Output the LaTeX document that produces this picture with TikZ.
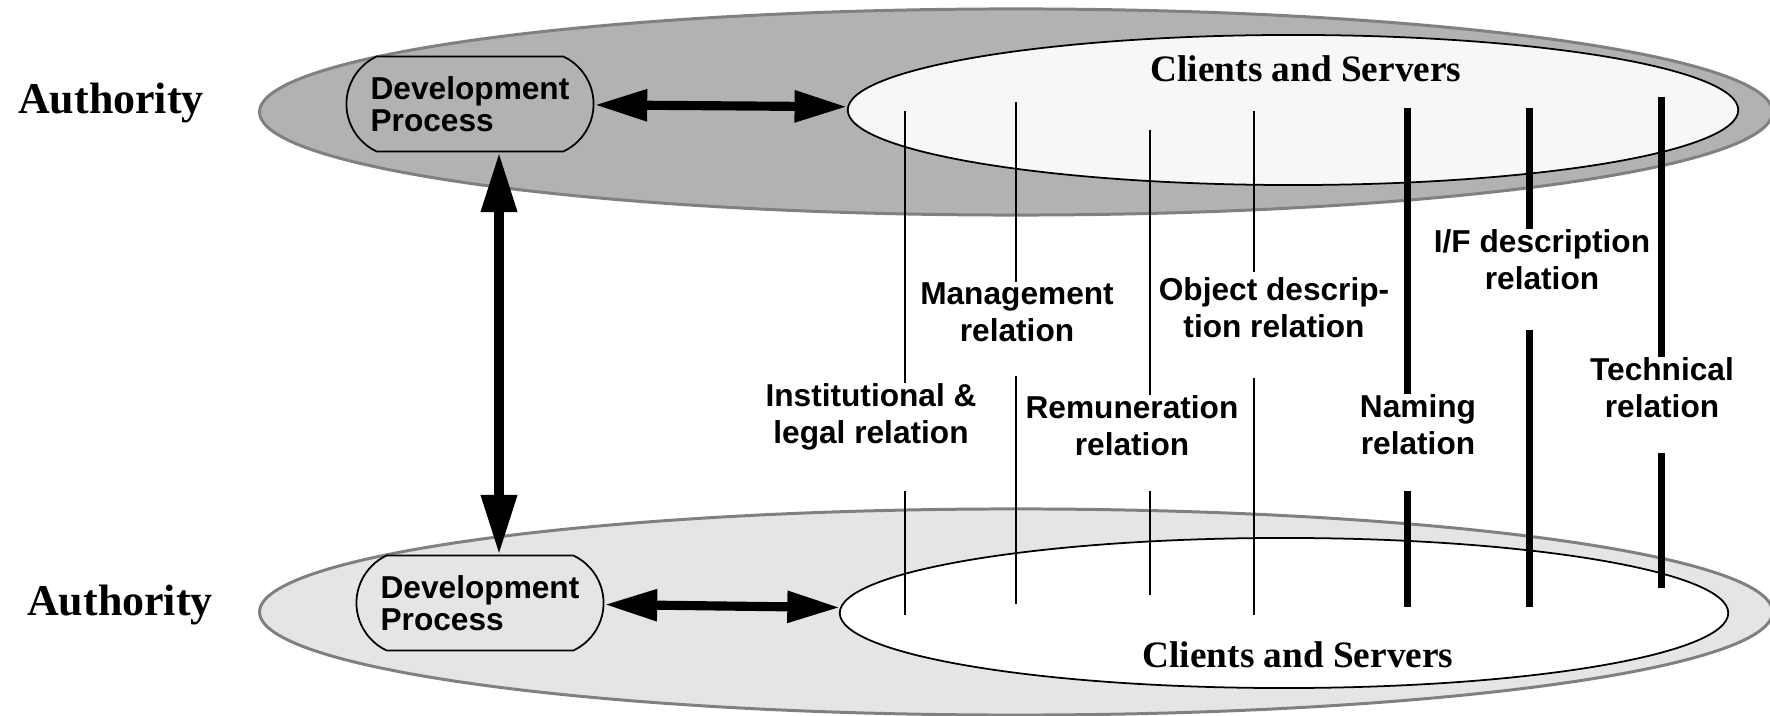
\documentclass[tikz,border=0pt]{standalone}
\usepackage{fontspec}
\setmainfont{Liberation Serif}
\setsansfont{Liberation Sans}
\usetikzlibrary{shapes.geometric,shapes.misc,arrows.meta}

\tikzset{
  authzone/.style={ellipse,draw=black!50,line width=0.85pt,inner sep=0pt,
    minimum width=15.12cm,minimum height=2.06cm},
  csarea/.style={ellipse,draw=black,line width=0.5pt,inner sep=0pt,
    minimum width=8.9cm,minimum height=1.5cm},
  devproc/.style={rounded rectangle,rounded rectangle arc length=130,draw=black,
    line width=0.5pt,minimum width=2.47cm,minimum height=0.95cm,inner sep=0pt,
    align=left,font=\sffamily\bfseries\fontsize{9}{9}\selectfont},
  authlabel/.style={anchor=base,inner sep=0pt,font=\bfseries\fontsize{12.5}{14}\selectfont},
  cslabel/.style={anchor=base,inner sep=0pt,font=\bfseries\fontsize{10.6}{12}\selectfont},
  rellabel/.style={align=center,inner sep=0pt,font=\sffamily\bfseries\fontsize{9}{10.6}\selectfont},
  thinrel/.style={line width=0.5pt},
  thickrel/.style={line width=2pt},
  biarrow/.style={{Triangle[length=15pt,width=8.5pt]}-{Triangle[length=15pt,width=8.5pt]},line width=2.6pt},
  vbiarrow/.style={{Triangle[length=17pt,width=9.7pt]}-{Triangle[length=17pt,width=9.7pt]},line width=2.8pt}
}

\begin{document}
\begin{tikzpicture}[x=0.01cm,y=-0.01cm]
   \useasboundingbox (0,0) rectangle (1770,716);

   % upper authority
   \node[authzone] (auth1) [fill=black!30] at (1016,112) {};
   \node[csarea] (cs1) [fill=black!3] at (1293,110) {};
   \node[authlabel] (auth1t) at (111,114) {Authority};
   \node[cslabel] (cs1t) at (1306,82) {Clients and Servers};
   \node[devproc] (dev1) [fill=black!30] at (470,104) {Development\\Process};

   % lower authority
   \node[authzone] (auth2) [fill=black!10] at (1016,612) {};
   \node[csarea] (cs2) [fill=white,minimum width=8.88cm] at (1284,613) {};
   \node[authlabel] (auth2t) at (120,616) {Authority};
   \node[cslabel] (cs2t) at (1298,668) {Clients and Servers};
   \node[devproc] (dev2) [fill=black!10] at (480,603) {Development\\Process};

   \path[biarrow]
        (dev1) edge node {} (cs1)
        (dev2) edge node {} (cs2);
   \path[vbiarrow]
        ([xshift=0.29cm]dev1.south) edge node {} ([xshift=0.19cm]dev2.north);

   % relations
   \node[rellabel] (inst) at (871,417) {Institutional \&\\legal relation};
   \node[rellabel] (mgmt) at (1017,312) {Management\\relation};
   \node[rellabel] (remu) at (1132,426) {Remuneration\\relation};
   \node[rellabel] (objd) at (1274,308) {Object descrip-\\tion relation};
   \node[rellabel] (nami) at (1418,425) {Naming\\relation};
   \node[rellabel] (ifd)  at (1542,260) {I/F description\\relation};
   \node[rellabel] (tech) at (1662,388) {Technical\\relation};

   \coordinate (inst-t) at (905,111);
   \coordinate (inst-b) at (905,491);
   \coordinate (inst-e) at (905,615);
   \coordinate (mgmt-t) at (1016,102);
   \coordinate (mgmt-b) at (1016,376);
   \coordinate (mgmt-e) at (1016,604);
   \coordinate (remu-t) at (1150,130);
   \coordinate (remu-b) at (1150,491);
   \coordinate (remu-e) at (1150,595);
   \coordinate (objd-t) at (1254,111);
   \coordinate (objd-m) at (1254,272);
   \coordinate (objd-b) at (1254,378);
   \coordinate (objd-e) at (1254,615);
   \coordinate (nami-t) at (1407,108);
   \coordinate (nami-b) at (1407,491);
   \coordinate (nami-e) at (1407,607);
   \coordinate (ifd-t)  at (1529,108);
   \coordinate (ifd-b)  at (1529,330);
   \coordinate (ifd-e)  at (1529,607);
   \coordinate (tech-t) at (1661,97);
   \coordinate (tech-b) at (1661,453);
   \coordinate (tech-e) at (1661,588);

   \draw[thinrel]
        (inst-t) -- (inst-t |- inst.north)
        (inst-b) -- (inst-e)
        (mgmt-t) -- (mgmt-t |- mgmt.north)
        (mgmt-b) -- (mgmt-e)
        (remu-t) -- (remu-t |- remu.north)
        (remu-b) -- (remu-e)
        (objd-t) -- (objd-m)
        (objd-b) -- (objd-e);
   \draw[thickrel]
        (nami-t) -- (nami-t |- nami.north)
        (nami-b) -- (nami-e)
        (ifd-t) -- (ifd-t |- ifd.north)
        (ifd-b) -- (ifd-e)
        (tech-t) -- (tech-t |- tech.north)
        (tech-b) -- (tech-e);
\end{tikzpicture}
\end{document}
